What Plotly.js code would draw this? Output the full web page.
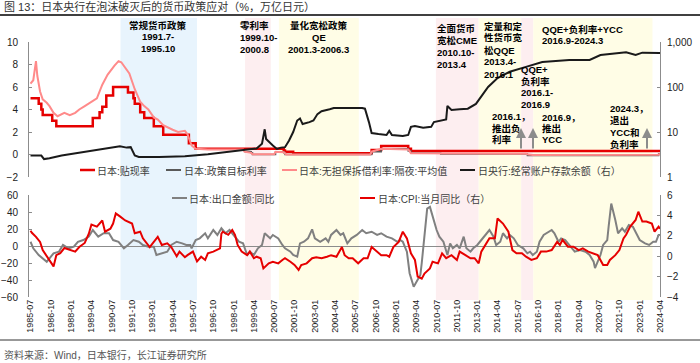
<!DOCTYPE html>
<html><head><meta charset="utf-8">
<script src="https://cdn.plot.ly/plotly-3.0.1.min.js"></script>
<style>html,body{margin:0;padding:0;background:#fff}#chart{width:700px;height:363px}</style>
</head><body><div id="chart"></div>
<script>
// ---------- DATA ----------
const TICK_LABELS = ['1985-07','1986-10','1988-01','1989-04','1990-07','1991-10','1993-01','1994-04','1995-07','1996-10','1998-01','1999-04','2000-07','2001-10','2003-01','2004-04','2005-07','2006-10','2008-01','2009-04','2010-07','2011-10','2013-01','2014-04','2015-07','2016-10','2018-01','2019-04','2020-07','2021-10','2023-01','2024-04'];

const DISCOUNT_DATES = ['1985-07','1986-01','1986-03','1986-04','1986-11','1987-02','1989-05','1989-10','1989-12','1990-03','1990-08','1991-07','1991-11','1991-12','1992-04','1992-07','1993-02','1993-09','1995-04','1995-09','2001-02','2001-03','2001-09','2006-07','2007-02','2008-10','2008-12','2024-04'];
const DISCOUNT_RATE = [5.0,4.5,4.0,3.5,3.0,2.5,3.25,3.75,4.25,5.25,6.0,5.5,5.0,4.5,3.75,3.25,2.5,1.75,1.0,0.5,0.35,0.25,0.1,0.4,0.75,0.5,0.3,0.3];

const POLICY_DATES = ['1998-09','1999-02','1999-03','2000-08','2001-02','2001-03','2006-07','2007-02','2008-10','2008-12','2010-10','2016-02','2024-03','2024-04'];
const POLICY_RATE = [0.25,0.15,0.0,0.25,0.15,0.0,0.25,0.5,0.3,0.1,0.05,-0.1,0.05,0.05];

const CALL_DATES = ['1985-07','1985-09','1985-11','1985-12','1986-02','1986-04','1986-07','1986-09','1986-12','1987-03','1987-08','1987-12','1988-04','1988-07','1988-11','1989-03','1989-08','1989-12','1990-04','1990-09','1990-12','1991-02','1991-05','1991-08','1991-12','1992-04','1992-07','1992-10','1993-02','1993-05','1993-09','1993-12','1994-04','1994-08','1995-01','1995-03','1995-04','1995-06','1995-09','1996-06','1998-08','1998-09','1999-02','1999-03','2000-07','2000-08','2001-02','2001-03','2001-04','2006-06','2006-07','2007-02','2008-10','2008-11','2008-12','2016-01','2016-03','2016-06','2024-03','2024-04'];
const CALL_RATE = [6.3,6.6,8.3,7.0,5.6,4.9,4.6,4.3,3.7,3.4,3.7,3.5,3.7,4.0,4.3,4.6,5.0,6.2,7.1,7.9,8.3,8.2,7.7,7.2,5.8,4.7,4.3,4.0,3.3,3.1,2.6,2.4,2.2,2.0,2.1,1.8,1.4,0.8,0.5,0.45,0.45,0.25,0.15,0.03,0.03,0.25,0.2,0.1,0.01,0.01,0.25,0.5,0.45,0.3,0.1,0.07,-0.01,-0.05,-0.02,0.07];

const CA_DATES = ['1985-07','1986-03','1986-05','1986-09','1987-06','1988-06','1989-06','1990-06','1991-01','1991-06','1991-09','1991-12','1992-03','1993-06','1995-01','1996-06','1997-06','1998-06','1999-06','1999-10','1999-12','2000-01','2000-03','2000-06','2000-09','2000-12','2001-03','2001-06','2001-09','2001-12','2002-02','2002-04','2002-09','2002-12','2003-03','2003-06','2003-12','2004-03','2005-12','2006-02','2006-05','2006-07','2006-12','2007-06','2007-08','2007-10','2008-06','2008-10','2008-12','2009-03','2009-09','2010-03','2010-05','2010-12','2011-02','2011-03','2011-06','2011-12','2012-06','2012-12','2013-03','2013-06','2013-09','2014-04','2015-01','2016-01','2017-01','2018-09','2019-12','2020-08','2022-03','2022-10','2023-03','2024-04'];
const CA_BALANCE = [3.0,3.0,2.5,2.6,3.0,3.4,3.8,4.3,4.8,4.5,4.6,3.0,2.8,2.8,2.9,3.2,3.5,3.8,4.3,5.5,11.5,7.0,6.0,5.0,4.2,4.5,4.6,6.5,10,18,20,15,16.6,18,25,29,32,34,34,33,16.6,9.5,9.0,8.6,10.6,8.6,8.2,8.6,13,13.6,12.5,13,16.6,18.5,19,38,31,32,33,42,57,75,100,158,218,280,360,400,400,515,590,515,580,570];

const EXPORT_DATES = ['1985-07','1985-09','1986-01','1986-05','1986-07','1986-09','1986-12','1987-04','1987-07','1987-11',
'1988-03','1988-06','1988-10','1989-02','1989-05','1989-09','1990-01','1990-05','1990-08','1990-12',
'1991-04','1991-07','1991-11','1992-03','1992-06','1992-10','1993-02','1993-04','1993-08','1993-12',
'1994-03','1994-07','1994-11','1995-02','1995-05','1995-06','1995-09','1995-12','1996-04','1996-06',
'1996-10','1997-01','1997-04','1997-07','1997-10','1998-01','1998-05','1998-08','1998-11','1999-01',
'1999-04','1999-07','1999-10','1999-12','2000-04','2000-06','2000-10','2001-01','2001-03','2001-07',
'2001-09','2001-12','2002-02','2002-05','2002-08','2002-11','2003-01','2003-05','2003-09','2003-11',
'2004-01','2004-05','2004-08','2004-10','2005-01','2005-04','2005-08','2005-12','2006-03','2006-07',
'2006-11','2007-02','2007-06','2007-10','2008-02','2008-04','2008-06','2008-09','2008-11','2009-02',
'2009-04','2009-07','2009-08','2009-10','2009-12','2010-02','2010-04','2010-07','2010-09','2010-12',
'2011-03','2011-05','2011-07','2011-10','2011-12','2012-03','2012-05','2012-08','2012-10','2013-01',
'2013-03','2013-05','2013-08','2013-10','2014-01','2014-03','2014-06','2014-08','2014-11','2015-01',
'2015-04','2015-07','2015-11','2016-02','2016-04','2016-06','2016-09','2016-11','2017-02','2017-04',
'2017-08','2017-10','2018-01','2018-03','2018-06','2018-08','2018-11','2019-01','2019-05','2019-09',
'2019-12','2020-03','2020-04','2020-08','2020-10','2021-01','2021-02','2021-04','2021-07','2021-09',
'2021-12','2022-02','2022-05','2022-08','2023-01','2023-05','2023-08','2023-11','2024-01','2024-03',
'2024-04'];
const EXPORT_YOY = [5,-2.7,-10.6,-16.5,-18.5,-14.5,-8.6,-6.7,1.2,-2.7,
-0.8,5,7,11,18.8,11,15,15,7,5,
-2.7,1.2,7,5,1.2,-0.8,-0.8,-10.6,-8.6,-6.7,
1.2,5,3.1,1.2,1.2,-2.7,7,9,15,9,
18.8,13,20.8,15,18.8,13,5,3.1,-10.6,-6.7,
-10.6,-2.7,1.2,15,9,13,9,1.2,-2.7,-6.7,
-10.6,-12.6,3.1,5,9,19.6,9,5,9,5,
13,18.8,13,15,3.1,9,13,18.8,15,16.8,
13,15,11,9,5,7,5,-6.7,-32,-48,
-42,-34,-20,11,44,46,34,18.8,11,5,
-10.6,3.1,-2.7,1.2,-2.7,11,-2.7,-6.7,-2.7,1.2,
5,9,15,18.8,11,1.2,5,15,9,13,
9,1.2,-2.7,-8.6,-6.7,-10.6,-6.7,5,13,15,
18.8,15,5,9,7,3.1,-2.7,-6.7,-4.7,-6.7,
-10.6,-18.5,-26,-10.6,1.2,7,22.7,50,30.6,15,
20.8,16.8,24.7,22.7,7,3.1,1.2,5,5,13,
13];

const CPI_DATES = ['1985-07','1985-08','1985-11','1986-02','1986-04','1986-07','1986-09','1986-12','1987-02','1987-05',
'1987-08','1987-12','1988-04','1988-07','1988-11','1989-02','1989-04','1989-08','1989-12','1990-02',
'1990-06','1990-08','1990-10','1991-01','1991-05','1991-10','1991-12','1992-04','1992-06','1992-11',
'1993-02','1993-05','1993-08','1993-12','1994-03','1994-07','1994-09','1995-01','1995-03','1995-07',
'1995-10','1996-01','1996-04','1996-06','1996-10','1997-01','1997-03','1997-04','1997-05','1997-09',
'1997-12','1998-02','1998-04','1998-07','1998-11','1999-01','1999-04','1999-06','1999-09','1999-11',
'2000-03','2000-06','2000-10','2001-01','2001-03','2001-07','2001-10','2002-01','2002-03','2002-07',
'2002-11','2003-02','2003-06','2003-10','2004-01','2004-05','2004-09','2004-11','2005-02','2005-05',
'2005-09','2006-01','2006-04','2006-07','2006-11','2007-02','2007-06','2007-08','2007-11','2008-03',
'2008-06','2008-09','2008-12','2009-03','2009-05','2009-08','2009-10','2010-02','2010-04','2010-08',
'2010-11','2011-02','2011-06','2011-10','2011-12','2012-04','2012-08','2012-11','2013-02','2013-04',
'2013-07','2013-10','2014-02','2014-04','2014-08','2014-12','2015-03','2015-06','2015-10','2016-01',
'2016-05','2016-09','2016-12','2017-04','2017-08','2017-12','2018-02','2018-04','2018-08','2018-12',
'2019-04','2019-07','2019-11','2020-03','2020-06','2020-10','2021-01','2021-03','2021-07','2021-10',
'2022-01','2022-03','2022-06','2022-10','2022-12','2023-03','2023-06','2023-10','2023-12','2024-03',
'2024-04'];
const CPI_YOY = [2.5,2.3,1.9,1.4,0.6,0.0,-0.4,-1.0,0.1,0.3,
0.8,0.6,0.45,0.9,1.3,2.2,3.1,2.9,3.5,2.4,
2.7,3.2,4.2,3.9,3.5,3.2,2.25,2.4,1.75,0.9,
1.4,1.9,1.1,1.26,0.9,0.0,0.45,-0.1,0.1,0.45,
-0.5,-0.05,-0.37,0.28,0.45,0.6,0.77,2.2,2.4,2.1,
2.57,2.1,1.1,0.45,0.1,0.45,-0.2,-0.05,-0.2,-1.2,
-0.7,-0.54,-0.7,-0.37,-0.2,-0.54,-0.86,-1.35,-0.86,-0.7,
-0.2,-0.1,-0.2,-0.05,0.1,-0.05,0.9,0.1,-0.2,-0.2,
-0.7,-0.2,-0.2,0.9,0.45,0.1,0.1,-0.05,0.9,1.4,
2.4,1.75,0.28,-0.37,-2.0,-2.2,-1.7,-1.2,-0.54,-0.7,
0.28,-0.2,0.1,-0.37,0.45,0.1,-0.2,-0.2,-0.7,0.45,
1.1,1.75,1.75,3.7,3.2,2.4,0.6,0.28,0.28,-0.05,
-0.37,-0.2,0.45,0.45,0.6,1.4,1.1,1.6,0.93,0.93,
0.6,0.77,0.45,0.28,0.1,-0.86,-0.86,-0.37,0.1,0.6,
1.75,2.1,2.9,3.55,4.36,3.4,3.4,3.2,2.4,2.9,
2.7];

// shaded policy regimes as drawn in the picture
const SHADE_START = ['1991-01-15','1998-09-15','2000-10-15','2010-06-15','2013-02-01','2015-09-15','2016-06-15'];
const SHADE_END   = ['1995-10-01','2000-04-15','2005-09-15','2013-02-01','2015-09-15','2016-06-15','2023-10-15'];
const SHADE_KIND  = ['blue','pink','yellow','pink','yellow','pink','yellow'];

// ---------- LAYOUT HELPERS ----------
const W=700,H=363,ML=29,MR=40,PW=W-ML-MR;
const px = x => (x-ML)/PW;
const py = y => 1-y/H;
const FONT='"Liberation Sans", Arial, "Noto Sans CJK SC", sans-serif';
const C_RED='#E60000', C_PINK='#FF8A8A', C_POL='#595959', C_BLK='#1a1a1a', C_GRAY='#808080', C_AX='#8c8c8c';
const SHADE_COLORS={blue:'#E8F4FD',pink:'#FDEEF0',yellow:'#FFFDE6'};

const traces = [
 {x:DISCOUNT_DATES,y:DISCOUNT_RATE,xaxis:'x',yaxis:'y',mode:'lines',line:{color:C_RED,width:2.5,shape:'hv'},name:'日本:贴现率'},
 {x:POLICY_DATES,y:POLICY_RATE,xaxis:'x',yaxis:'y',mode:'lines',line:{color:C_POL,width:1.5,shape:'hv'},name:'日本:政策目标利率'},
 {x:CALL_DATES,y:CALL_RATE,xaxis:'x',yaxis:'y',mode:'lines',line:{color:C_PINK,width:2},name:'日本:无担保拆借利率:隔夜:平均值'},
 {x:CA_DATES,y:CA_BALANCE,xaxis:'x',yaxis:'y2',mode:'lines',line:{color:C_BLK,width:2},name:'日央行:经常账户存款余额（右）'},
 {x:EXPORT_DATES,y:EXPORT_YOY,xaxis:'x',yaxis:'y3',mode:'lines',line:{color:C_GRAY,width:2},name:'日本:出口金额:同比'},
 {x:CPI_DATES,y:CPI_YOY,xaxis:'x',yaxis:'y4',mode:'lines',line:{color:C_RED,width:2},name:'日本:CPI:当月同比（右）'}
];

const shapes=[];
SHADE_START.forEach((s,i)=>shapes.push({type:'rect',xref:'x',yref:'paper',x0:s,x1:SHADE_END[i],y0:py(300),y1:py(18),fillcolor:SHADE_COLORS[SHADE_KIND[i]],line:{width:0},layer:'below'}));
shapes.push({type:'line',xref:'paper',yref:'paper',x0:px(0),x1:px(700),y0:py(15),y1:py(15),line:{color:'#404040',width:2}});
shapes.push({type:'line',xref:'paper',yref:'paper',x0:px(0),x1:px(700),y0:py(340),y1:py(340),line:{color:'#333',width:1}});

const ann=[];
function txt(t,x,y,anchor,size,color,bold){
  ann.push({xref:'paper',yref:'paper',x:px(x),y:py(y),text:bold?'<b>'+t+'</b>':t,showarrow:false,xanchor:anchor,yanchor:'middle',font:{family:FONT,size:size,color:color},borderpad:0});
}
function block(lines,x,y0,anchor,step){lines.forEach((t,i)=>txt(t,x,y0+i*step,anchor,9.5,'#000',true));}
function legendItem(label,color,width,x0,y,tx){
  shapes.push({type:'line',xref:'paper',yref:'paper',x0:px(x0),x1:px(x0+15),y0:py(y),y1:py(y),line:{color:color,width:width}});
  txt(label,tx,y+1.5,'left',10,'#404040',false);
}

txt('图 13：日本央行在泡沫破灭后的货币政策应对（%，万亿日元）',3,7,'left',11,'#333',false);
txt('资料来源：Wind，日本银行，长江证券研究所',3,355,'left',10,'#555',false);

block(['常规货币政策','1991.7-','1995.10'],158,25,'center',11.7);
block(['零利率','1999.10-','2000.8'],239,25,'left',12);
block(['量化宽松政策','QE','2001.3-2006.3'],318.5,25,'center',12);
block(['全面货币','宽松CME','2010.10-','2013.4'],436,28,'left',12);
block(['定量和定','性货币宽','松QQE','2013.4-','2016.1'],482.5,26,'left',12);
block(['QQE+负利率+YCC','2016.9-2024.3'],540.5,29.3,'left',11.5);
block(['QQE+','负利率','2016.1-','2016.9'],520,70,'left',11.4);
block(['2016.1，','推出负','利率'],491,116.7,'left',11.4);
block(['2016.9，','推出','YCC'],540.5,117,'left',11);
block(['2024.3，','退出','YCC和','负利率'],609.3,108,'left',12);

[521,533,647].forEach(x=>ann.push({xref:'paper',yref:'paper',x:px(x),y:py(128),ax:0,ay:22,showarrow:true,arrowhead:2,arrowsize:1,arrowwidth:2,arrowcolor:C_AX,text:''}));

legendItem('日本:贴现率',C_RED,2.5,80,170,96);
legendItem('日本:政策目标利率',C_POL,2,166,170,183);
legendItem('日本:无担保拆借利率:隔夜:平均值',C_PINK,2,282,170,298);
legendItem('日央行:经常账户存款余额（右）',C_BLK,2,460,170,477);
legendItem('日本:出口金额:同比',C_GRAY,2,172,198,188);
legendItem('日本:CPI:当月同比（右）',C_RED,2,360,198,377);

const yBase={showline:true,linecolor:C_AX,linewidth:1,ticks:'inside',ticklen:3,tickcolor:C_AX,showgrid:false,zeroline:false,tickfont:{family:FONT,size:10,color:'#222'},fixedrange:true};

const layout={
  width:W,height:H,margin:{l:ML,r:MR,t:0,b:0},paper_bgcolor:'#fff',plot_bgcolor:'rgba(0,0,0,0)',
  showlegend:false,font:{family:FONT},
  xaxis:{type:'date',range:['1985-05-28','2024-04-01'],anchor:'y3',tickmode:'array',tickvals:TICK_LABELS.map(t=>t+'-01'),ticktext:TICK_LABELS,tickangle:-90,tickfont:{family:FONT,size:9,color:'#1a1a1a'},showline:false,showgrid:false,zeroline:false,ticks:''},
  yaxis:Object.assign({},yBase,{domain:[py(177),py(42)],range:[-2,10],dtick:2,tick0:0,anchor:'x',ticklabelstandoff:8}),
  yaxis2:Object.assign({},yBase,{overlaying:'y',side:'right',anchor:'x',type:'log',range:[0,3],tickmode:'array',tickvals:[1,10,100,1000],ticktext:['1','10','100','1,000'],ticklabelstandoff:4}),
  yaxis3:Object.assign({},yBase,{domain:[py(297),py(195)],range:[-60,60],dtick:20,tick0:0,anchor:'x',zeroline:true,zerolinecolor:C_AX,zerolinewidth:1,ticklabelstandoff:8}),
  yaxis4:Object.assign({},yBase,{overlaying:'y3',side:'right',anchor:'x',range:[-4,6],dtick:2,tick0:0,ticklabelstandoff:4}),
  shapes:shapes,annotations:ann
};
Plotly.newPlot('chart',traces,layout,{displayModeBar:false,staticPlot:true});
</script></body></html>
